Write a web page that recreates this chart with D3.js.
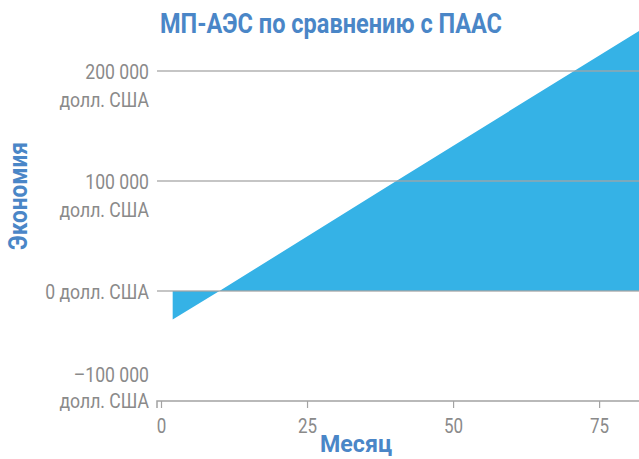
<!DOCTYPE html>
<html lang="ru">
<head>
    <meta charset="UTF-8">
    <title>МП-АЭС по сравнению с ПААС</title>
    <script src="https://d3js.org/d3.v7.min.js"></script>
    <style>
        body { margin: 0; background: #fff; }
        svg { display: block; }
        .tick-label {
            font-family: "Roboto", "Liberation Sans", sans-serif;
            font-size: 20px;
            fill: #8a8a8a;
        }
        .blue-title {
            font-family: "Roboto", "Liberation Sans", sans-serif;
            font-weight: bold;
            fill: #4a86c7;
        }
        .grid-line { stroke: #a3a3a3; stroke-width: 1.5; }
    </style>
</head>
<body>
<svg id="chart" width="639" height="459"></svg>
<script>
    // данные: месяц -> экономия (долл. США)
    const months  = [2, 10, 40, 71, 82];
    const savings = [-26000, 0, 99000, 201000, 237000];

    const xTicks = [0, 25, 50, 75];
    const yTicks = [-100000, 0, 100000, 200000];
    const yTickLines = [
        ["–100 000", "долл. США"],
        ["0 долл. США"],
        ["100 000", "долл. США"],
        ["200 000", "долл. США"]
    ];

    const titleText = "МП-АЭС по сравнению с ПААС";
    const yLabel = "Экономия";
    const xLabel = "Месяц";

    const svg = d3.select("#chart"),
          width = +svg.attr("width"),
          height = +svg.attr("height");

    const x = d3.scaleLinear().domain([0, 82]).range([161, 640]);
    const y = d3.scaleLinear().domain([-100000, 200000]).range([401, 71]);

    const data = months.map((m, i) => ({ m: m, v: savings[i] }));

    // узкий шрифт: сжимаем по ширине
    function condense(node, k) {
        const len = node.getComputedTextLength();
        d3.select(node).attr("textLength", len * k).attr("lengthAdjust", "spacingAndGlyphs");
    }

    // область экономии
    const area = d3.area()
        .x(d => x(d.m))
        .y0(y(0))
        .y1(d => y(d.v));

    svg.append("path")
        .datum(data)
        .attr("fill", "#35b2e6")
        .attr("d", area);

    // линии сетки поверх области
    yTicks.filter(t => t > yTicks[0]).forEach(t => {
        svg.append("line")
            .attr("class", "grid-line")
            .attr("x1", 157)
            .attr("x2", width)
            .attr("y1", y(t))
            .attr("y2", y(t))
            .attr("stroke-opacity", 0.85);
    });

    // ось X
    const xAxis = d3.axisBottom(x)
        .tickValues(xTicks)
        .tickSize(7)
        .tickSizeOuter(0)
        .tickFormat(d => d);

    const gx = svg.append("g")
        .attr("transform", `translate(0, ${y(-100000)})`)
        .call(xAxis);
    gx.select(".domain").attr("stroke", "#a3a3a3").attr("stroke-width", 1.5)
        .attr("d", `M157,7V0H${width}`);
    gx.selectAll(".tick line").attr("stroke", "#a3a3a3").attr("stroke-width", 1.2);
    gx.selectAll(".tick text")
        .attr("class", "tick-label")
        .attr("y", 32)
        .attr("dy", 0)
        .attr("font-family", null)
        .attr("font-size", null)
        .attr("fill", null)
        .each(function () { condense(this, 0.85); });

    // подписи оси Y
    yTicks.forEach((t, i) => {
        const lines = yTickLines[i];
        const first = t === yTicks[0] ? y(t) + 7 - 26 : y(t) + 8;
        const step = t === yTicks[0] ? 26 : 28;
        const txt = svg.append("text")
            .attr("class", "tick-label")
            .attr("text-anchor", "end");
        lines.forEach((l, j) => {
            const ts = txt.append("tspan")
                .attr("x", 149)
                .attr("y", first + j * step)
                .text(l);
            condense(ts.node(), 0.88);
        });
    });

    // заголовок
    svg.append("text")
        .attr("class", "blue-title")
        .attr("x", 331)
        .attr("y", 33)
        .attr("text-anchor", "middle")
        .style("font-size", "28px")
        .attr("textLength", 342)
        .attr("lengthAdjust", "spacingAndGlyphs")
        .text(titleText);

    // подпись оси Y
    svg.append("text")
        .attr("class", "blue-title")
        .attr("transform", "translate(27, 196) rotate(-90)")
        .attr("text-anchor", "middle")
        .style("font-size", "26px")
        .attr("textLength", 108)
        .attr("lengthAdjust", "spacingAndGlyphs")
        .text(yLabel);

    // подпись оси X
    svg.append("text")
        .attr("class", "blue-title")
        .attr("x", 356)
        .attr("y", 452)
        .attr("text-anchor", "middle")
        .style("font-size", "24px")
        .attr("textLength", 72)
        .attr("lengthAdjust", "spacingAndGlyphs")
        .text(xLabel);
</script>
</body>
</html>
